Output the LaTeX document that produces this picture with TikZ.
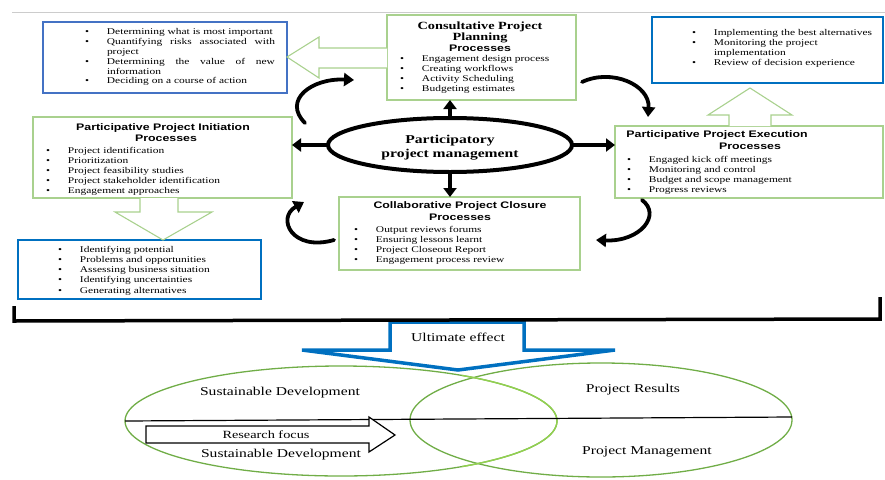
\documentclass[tikz,border=0pt]{standalone}
\usepackage{fontspec}
\setmainfont{Liberation Serif}[FakeStretch=1.3]
\newfontfamily\headsans{Liberation Sans}[FakeStretch=1.3]
\usetikzlibrary{arrows.meta,shapes.geometric}

\definecolor{boxgreen}{HTML}{A9D18E}
\definecolor{venngreen}{HTML}{70AD47}
\definecolor{lightvenn}{HTML}{92D050}
\definecolor{steelblue}{HTML}{4472C4}
\definecolor{deepblue}{HTML}{0070C0}

% bulleted line with a hanging indent
\newlength\bhang
\setlength\bhang{22pt}
\newcommand\bitem[1]{\par\noindent\hangindent=\bhang\hangafter=1\makebox[\bhang][l]{\textbullet}#1}

\tikzset{
  procbox/.style={rectangle, draw=boxgreen, line width=1.1pt, inner sep=0pt, outer sep=0pt, anchor=north west},
  bluebox/.style={rectangle, line width=2.6pt, inner sep=0pt, outer sep=0pt, anchor=north west},
  listtext/.style={anchor=base west, inner sep=0pt, outer sep=0pt, font=\fontsize{8.8}{10.2}\selectfont, align=left, text width=#1},
  boxtitle/.style={anchor=base, inner sep=0pt, font=\headsans\bfseries\fontsize{9.5}{11}\selectfont},
  serifhead/.style={anchor=base, inner sep=0pt, font=\bfseries\fontsize{11}{12}\selectfont},
  greenarrow/.style={draw=boxgreen, line width=1.1pt, fill=white},
  hub/.style={ellipse, draw, line width=4pt, minimum width=244pt, minimum height=54pt, inner sep=0pt, outer sep=0pt},
  spoke/.style={line width=4pt, -{Triangle[length=9pt,width=13pt]}},
  turnarrow/.style={line width=3.8pt, line cap=round, -{Triangle[length=10pt,width=13pt]}},
  plainlabel/.style={inner sep=0pt, font=\fontsize{12}{14}\selectfont},
}

\begin{document}
\begin{tikzpicture}[x=1pt,y=-1pt]
\useasboundingbox (0,0) rectangle (885,479);

% thin rule along the top
\draw[black!20, line width=0.8pt] (12,12) -- (885,12);

% ---------- process boxes ----------
\node[procbox, minimum width=189pt, minimum height=85pt] (consult) at (387,15) {};
\node[procbox, minimum width=259pt, minimum height=81pt] (init) at (33,117) {};
\node[procbox, minimum width=268pt, minimum height=72pt] (exec) at (615,126) {};
\node[procbox, minimum width=241pt, minimum height=73pt] (closure) at (339,197) {};

% ---------- decision boxes ----------
\node[bluebox, draw=steelblue, minimum width=244pt, minimum height=71pt] (decideA) at (43,22) {};
\node[bluebox, draw=deepblue, minimum width=231pt, minimum height=66pt] (decideB) at (652,17) {};
\node[bluebox, draw=deepblue, minimum width=243pt, minimum height=59pt] (decideC) at (18,240) {};

% ---------- green block arrows ----------
\draw[greenarrow] (387,48) -- (319,48) -- (319,37) -- (287,57) -- (319,78) -- (319,68) -- (387,68);
\draw[greenarrow] (140,198) -- (140,212) -- (115,212) -- (163,240) -- (212,212) -- (178,212) -- (178,198);
\draw[greenarrow] (729,126) -- (729,115) -- (708,115) -- (750,88) -- (792,115) -- (771,115) -- (771,126);

% ---------- titles ----------
\node[serifhead] (consultT1) at (480,29) {Consultative Project};
\node[serifhead] (consultT2) at (480,40) {Planning};
\node[boxtitle] (consultT3) at (480,51) {Processes};
\node[boxtitle] (initT1) at (163,130) {Participative Project Initiation};
\node[boxtitle] (initT2) at (166,141) {Processes};
\node[boxtitle] (execT1) at (717,137) {Participative Project Execution};
\node[boxtitle] (execT2) at (750,149) {Processes};
\node[boxtitle] (closT1) at (460,208) {Collaborative Project Closure};
\node[boxtitle] (closT2) at (460,220) {Processes};

% ---------- bullet lists ----------
\node[listtext=190pt, align=justify, font=\fontsize{8.8}{9.8}\selectfont] (decideAtext) at (85,25) {%
  \bitem{Determining what is most important}%
  \bitem{Quantifying risks associated with\linebreak project}%
  \bitem{Determining the value of new\linebreak information}%
  \bitem{Deciding on a course of action}};

\node[listtext=170pt] (consultText) at (400,51) {%
  \bitem{Engagement design process}%
  \bitem{Creating workflows}%
  \bitem{Activity Scheduling}%
  \bitem{Budgeting estimates}};

\node[listtext=190pt] (decideBtext) at (692,25) {%
  \bitem{Implementing the best alternatives}%
  \bitem{Monitoring the project\newline implementation}%
  \bitem{Review of decision experience}};

\node[listtext=240pt, font=\fontsize{8.8}{10}\selectfont] (initText) at (46,143) {%
  \bitem{Project identification}%
  \bitem{Prioritization}%
  \bitem{Project feasibility studies}%
  \bitem{Project stakeholder identification}%
  \bitem{Engagement approaches}};

\node[listtext=250pt] (execText) at (627,152) {%
  \bitem{Engaged kick off meetings}%
  \bitem{Monitoring and control}%
  \bitem{Budget and scope management}%
  \bitem{Progress reviews}};

\node[listtext=220pt, font=\fontsize{8.8}{10}\selectfont] (closText) at (354,222) {%
  \bitem{Output reviews forums}%
  \bitem{Ensuring lessons learnt}%
  \bitem{Project Closeout Report}%
  \bitem{Engagement process review}};

\node[listtext=200pt] (decideCtext) at (58,242) {%
  \bitem{Identifying potential}%
  \bitem{Problems and opportunities}%
  \bitem{Assessing business situation}%
  \bitem{Identifying uncertainties}%
  \bitem{Generating alternatives}};

% ---------- central hub ----------
\node[hub] (ppm) at (450,145) {};
\node[anchor=base, inner sep=0pt, font=\bfseries\fontsize{12}{14}\selectfont] (ppmT1) at (450,143) {Participatory};
\node[anchor=base, inner sep=0pt, font=\bfseries\fontsize{12}{14}\selectfont] (ppmT2) at (450,157) {project management};

\draw[spoke] (ppm.north) -- (ppm.north |- consult.south);
\draw[spoke] (ppm.south) -- (ppm.south |- closure.north);
\draw[spoke] (ppm.west) -- (ppm.west -| init.east);
\draw[spoke] (ppm.east) -- (ppm.east -| exec.west);

% ---------- cycle arrows between the phases ----------
\coordinate (c1a) at (305,123);  \coordinate (c1b) at (354,80);
\coordinate (c2a) at (582,82);   \coordinate (c2b) at (648,117);
\coordinate (c3a) at (642,200);  \coordinate (c3b) at (596,240);
\coordinate (c4a) at (334,240);  \coordinate (c4b) at (304,202);
\draw[turnarrow] (c1a) .. controls (282,100) and (312,78) .. (c1b);
\draw[turnarrow] (c2a) .. controls (612,68) and (650,85) .. (c2b);
\draw[turnarrow] (c3a) .. controls (662,215) and (640,242) .. (c3b);
\draw[turnarrow] (c4a) .. controls (292,252) and (276,218) .. (c4b);

% ---------- ultimate effect ----------
\draw[deepblue, line width=3.5pt, fill=white] (390,322) -- (390,350) -- (302,350) -- (458,370) -- (615,350) -- (524,350) -- (524,322) -- cycle;
\node[plainlabel] (effect) at (458,337) {Ultimate effect};
\draw[line width=3.5pt, line join=miter] (14,306) -- (14,321) -- (880,319) -- (880,297);

% ---------- research focus ----------
\draw[venngreen, line width=1.3pt] (341,421) ellipse [x radius=216, y radius=55];
\draw[venngreen, line width=1.3pt] (601,420) ellipse [x radius=191, y radius=57];
\begin{scope}
  \clip (462,360) rectangle (600,479);
  \draw[lightvenn, line width=1.4pt] (341,421) ellipse [x radius=216, y radius=55];
\end{scope}
\draw[line width=1.2pt] (125,421) -- (792,417);

\draw[line width=1.2pt, fill=white] (146,426) -- (369,426) -- (369,417) -- (395,435) -- (369,452) -- (369,443) -- (146,443) -- cycle;
\node[inner sep=0pt, font=\fontsize{11}{13}\selectfont] (focus) at (266,435) {Research focus};

\node[plainlabel] (sdTop) at (280,393) {Sustainable Development};
\node[plainlabel] (sdBottom) at (281,455) {Sustainable Development};
\node[plainlabel] (results) at (633,390) {Project Results};
\node[plainlabel] (pm) at (647,452) {Project Management};
\end{tikzpicture}
\end{document}
